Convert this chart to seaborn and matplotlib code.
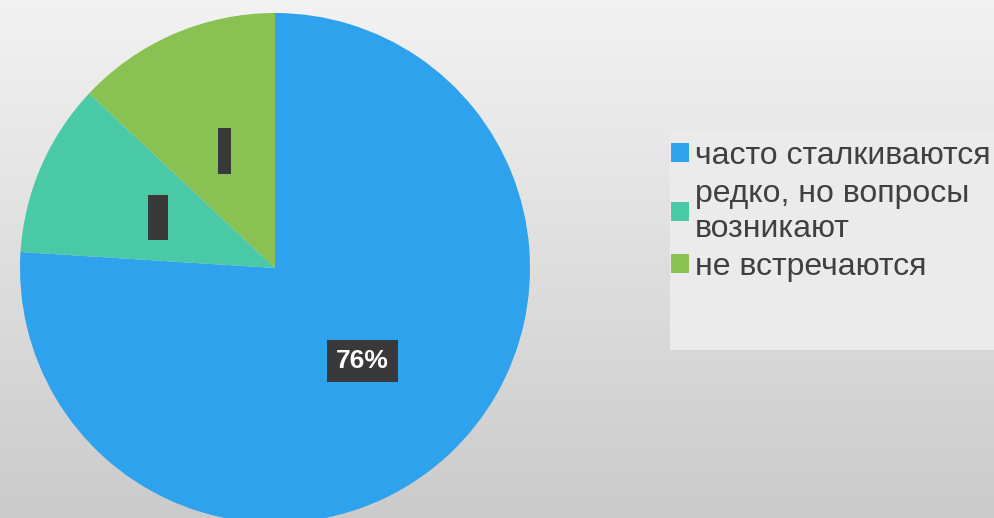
import numpy as np
import matplotlib
matplotlib.use("Agg")
import matplotlib.pyplot as plt
from matplotlib.patches import Rectangle, Patch
import seaborn as sns

# dane wykresu
categories = ["часто сталкиваются", "редко, но вопросы\nвозникают", "не встречаются"]
shares = [76, 11, 13]
pct_labels = ["76%", "    \n\n", "  \n\n"]  # male etykiety sa obciete w oryginale
colors = ["#2EA2EC", "#4AC9A6", "#8AC153"]

sns.set_theme(style="white")
plt.rcParams["font.family"] = ["Liberation Sans", "DejaVu Sans"]

W, H = 995, 518
fig = plt.figure(figsize=(W / 100, H / 100), dpi=100)

# tlo z gradientem
bg = fig.add_axes([0, 0, 1, 1], zorder=0)
grad = np.linspace(0, 1, 256).reshape(-1, 1)
bg.imshow(grad, aspect="auto", cmap=sns.blend_palette(["#F2F2F2", "#CBCBCB"], as_cmap=True),
          extent=[0, 1, 0, 1], origin="upper")
bg.set_axis_off()

# tlo legendy
fig.patches.append(Rectangle((670 / W, 1 - 350 / H), 325 / W, 218 / H,
                             transform=fig.transFigure, facecolor="#EBEBEB",
                             edgecolor="none", zorder=1))

# kolo: srodek (275, 268), promien 255 px
r = 255
ax = fig.add_axes([(275 - r) / W, 1 - (268 + r) / H, 2 * r / W, 2 * r / H], zorder=2)
ax.set_facecolor("none")

it = iter(pct_labels)
wedges, texts, autotexts = ax.pie(shares, colors=sns.color_palette(colors), startangle=90,
                                  counterclock=False, radius=1,
                                  autopct=lambda p: next(it), pctdistance=0.5,
                                  wedgeprops=dict(linewidth=0))
ax.set_xlim(-1, 1)
ax.set_ylim(-1, 1)
ax.set_aspect("equal")

for i, t in enumerate(autotexts):
    if i == 0:
        t.set_fontsize(19)
        t.set_fontweight("bold")
        t.set_color("white")
        t.set_bbox(dict(facecolor="#393939", edgecolor="none", pad=6.5))
    else:
        t.set_fontsize(9)
        t.set_color("#393939")
        t.set_bbox(dict(facecolor="#393939", edgecolor="none", pad=2))

handles = [Patch(facecolor=c, edgecolor="none") for c in colors]
leg = fig.legend(handles, categories, loc="upper left",
                 bbox_to_anchor=(671 / W, 1 - 141 / H), frameon=False,
                 fontsize=23, handlelength=0.55, handleheight=0.55,
                 handletextpad=0.2, labelspacing=0.25, borderpad=0, borderaxespad=0,
                 labelcolor="#404040")

fig.savefig("out.png", dpi=100)
